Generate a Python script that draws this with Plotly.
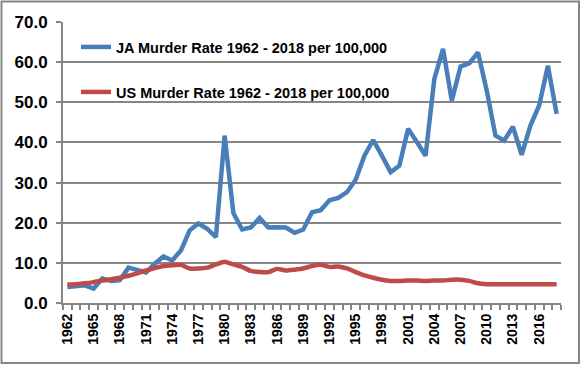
import plotly.graph_objects as go

years = list(range(1962, 2019))
ja_rate = [4.0, 4.2, 4.4, 3.6, 6.1, 5.5, 5.7, 8.8, 8.1, 7.6,
           9.8, 11.6, 10.6, 13.1, 18.1, 19.8, 18.5, 16.4, 41.7, 22.4,
           18.3, 18.8, 21.2, 18.8, 18.9, 18.8, 17.5, 18.3, 22.6, 23.1,
           25.6, 26.2, 27.6, 30.7, 36.7, 40.6, 36.7, 32.6, 34.2, 43.4,
           40.1, 36.7, 55.8, 63.3, 50.4, 58.9, 59.7, 62.4, 52.9, 41.7,
           40.5, 43.9, 36.9, 44.2, 49.2, 59.1, 47.1]
us_rate = [4.6, 4.7, 4.9, 5.2, 5.6, 5.9, 6.3, 6.8, 7.4, 8.1,
           8.7, 9.2, 9.4, 9.5, 8.6, 8.6, 8.8, 9.6, 10.3, 9.6,
           9.0, 8.0, 7.7, 7.7, 8.5, 8.1, 8.3, 8.6, 9.2, 9.5,
           9.0, 9.1, 8.6, 7.7, 6.9, 6.3, 5.8, 5.5, 5.5, 5.6,
           5.6, 5.5, 5.6, 5.6, 5.8, 5.8, 5.5, 4.9, 4.7, 4.7,
           4.7, 4.7, 4.7, 4.7, 4.7, 4.7, 4.7]
label_years = list(range(1962, 2017, 3))
y_ticks = [0, 10, 20, 30, 40, 50, 60, 70]

FONT = "Liberation Sans, Arial, sans-serif"
GRID = "#868686"

fig = go.Figure()
fig.add_trace(go.Scatter(
    x=years, y=ja_rate, mode="lines",
    name="JA Murder Rate 1962 - 2018 per 100,000",
    line=dict(color="#4A7EBB", width=4.5),
    legend="legend",
))
fig.add_trace(go.Scatter(
    x=years, y=us_rate, mode="lines",
    name="US Murder Rate 1962 - 2018 per 100,000",
    line=dict(color="#BE4B48", width=4.5, shape="spline", smoothing=0.6),
    legend="legend2",
))

L, R, T, B = 63, 21, 22, 62
W, H = 582, 365
pw, ph = W - L - R, H - T - B

def px_x(p):
    return (p - L) / pw

def px_y(p):
    return (H - B - p) / ph

legend_common = dict(
    font=dict(family=FONT, size=14.5, color="black", weight="bold"),
    bgcolor="rgba(0,0,0,0)", borderwidth=0,
    xanchor="left", yanchor="middle",
)

fig.update_layout(
    width=W, height=H,
    margin=dict(l=L, r=R, t=T, b=B),
    paper_bgcolor="white", plot_bgcolor="white",
    showlegend=True,
    legend=dict(x=px_x(76), y=px_y(47), **legend_common),
    legend2=dict(x=px_x(76), y=px_y(92), **legend_common),
    xaxis=dict(
        range=[1961.5, 2018.5],
        tickmode="array", tickvals=label_years,
        ticktext=[str(y) for y in label_years],
        tickangle=-90,
        ticks="", showgrid=False,
        showline=True, linecolor=GRID, linewidth=2,
        tickfont=dict(family=FONT, size=14, color="black", weight="bold"),
        ticklabelstandoff=3,
        minor=dict(tick0=1961.5, dtick=1, ticks="outside", ticklen=5,
                   tickcolor=GRID, tickwidth=1.5, showgrid=False),
        zeroline=False,
    ),
    yaxis=dict(
        range=[0, 70],
        tickmode="array", tickvals=y_ticks,
        ticktext=[f"{v:.1f}" for v in y_ticks],
        ticks="outside", ticklen=5, tickcolor=GRID, tickwidth=2,
        showgrid=True, gridcolor=GRID, gridwidth=2,
        showline=True, linecolor=GRID, linewidth=2,
        tickfont=dict(family=FONT, size=17, color="black", weight="bold"),
        ticklabelstandoff=5,
        zeroline=False,
    ),
    shapes=[dict(
        type="rect", xref="paper", yref="paper",
        x0=px_x(1.5), x1=px_x(579), y0=px_y(363), y1=px_y(1.5),
        line=dict(color=GRID, width=2), fillcolor="rgba(0,0,0,0)",
        layer="below",
    )],
)

fig.write_html(
    "out.html",
    config={"displayModeBar": False},
    post_script="document.body.style.margin='0';document.body.style.overflow='hidden';",
)
